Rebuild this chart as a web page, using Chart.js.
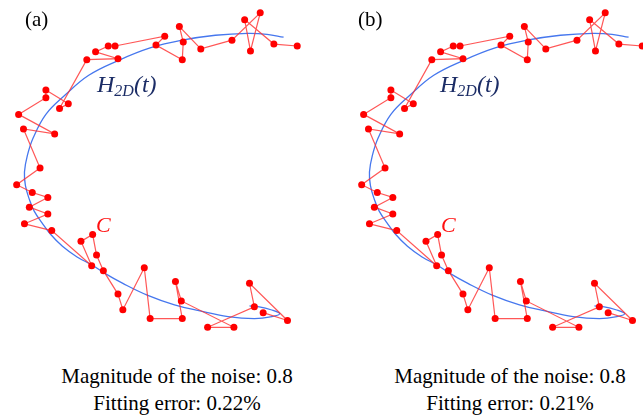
<!DOCTYPE html>
<html>
<head>
<meta charset="UTF-8">
<title>Noise fitting</title>
<script src="https://cdn.jsdelivr.net/npm/chart.js"></script>
<style>
  html, body { margin: 0; padding: 0; background: #fff; }
  body { width: 643px; height: 419px; position: relative; overflow: hidden; font-family: "Liberation Serif", "Times New Roman", serif; }
  .panel { position: absolute; top: 0; }
  .txt { position: absolute; white-space: nowrap; color: #000; }
  .lbl { font-size: 21px; line-height: 21px; }
  .hname { font-size: 24px; line-height: 24px; font-style: italic; color: #1c2d66; }
  .hname span { font-size: 16px; position: relative; top: 4px; }
  .cname { font-size: 22px; line-height: 22px; font-style: italic; color: #ff1010; }
  .cap { font-size: 21px; line-height: 27px; text-align: center; width: 354px; }
</style>
</head>
<body>

<canvas id="chartA" class="panel" width="310" height="345" style="left:0px"></canvas>
<canvas id="chartB" class="panel" width="310" height="345" style="left:345px"></canvas>

<div class="txt lbl" style="left:25px; top:9px">(a)</div>
<div class="txt lbl" style="left:358px; top:9px">(b)</div>

<div class="txt hname" style="left:97px; top:72px">H<span>2D</span>(t)</div>
<div class="txt hname" style="left:440px; top:72px">H<span>2D</span>(t)</div>

<div class="txt cname" style="left:96px; top:214px">C</div>
<div class="txt cname" style="left:441px; top:214px">C</div>

<div class="txt cap" style="left:0px; top:363px">Magnitude of the noise: 0.8<br>Fitting error: 0.22%</div>
<div class="txt cap" style="left:333px; top:363px">Magnitude of the noise: 0.8<br>Fitting error: 0.21%</div>

<script>
// noisy samples C (same pixel frame for both panels)
var noiseX = [301,277,247,253,263,234,202,180,184,183,156,165,114,107,94,117,85,57,66,43,43,15,52,20,37,13,29,45,26,45,21,49,90,79,91,95,102,117,122,144,150,183,176,182,236,209,257,252,291,266];
var noiseY = [43,41,16,48,9,37,46,23,39,57,42,33,43,43,49,56,57,107,102,88,96,113,133,128,168,185,193,198,208,215,225,232,268,243,236,257,273,297,313,270,322,322,284,304,331,331,310,286,324,316];

// fitted curve H2D(t)
var curveX = [287,270,250,217,183,150,117,87,63,43,30,24,21,22,26,31,39,48,60,75,90,104,122,147,175,200,230,257,275,283,274,262,252];
var curveY = [34,31,30,32,37,45,58,73,93,113,137,155,172,186,200,212,224,236,248,259,267,276,286,298,308,314,320,322,320,317,313,310,309];

function pts(xs, ys) {
  var out = [];
  for (var i = 0; i < xs.length; i++) out.push({ x: xs[i], y: ys[i] });
  return out;
}

function makeChart(id) {
  var ctx = document.getElementById(id).getContext('2d');
  return new Chart(ctx, {
    type: 'scatter',
    data: {
      datasets: [{
        label: 'C',
        data: pts(noiseX, noiseY),
        showLine: true,
        borderColor: 'rgba(255,45,45,0.8)',
        borderWidth: 1.2,
        pointRadius: 3.5,
        pointBorderWidth: 0,
        pointBackgroundColor: '#ff0000',
        tension: 0,
        order: 0
      }, {
        label: 'H2D(t)',
        data: pts(curveX, curveY),
        showLine: true,
        borderColor: '#4677ee',
        borderWidth: 1.3,
        pointRadius: 0,
        tension: 0.4,
        order: 1
      }]
    },
    options: {
      responsive: false,
      animation: false,
      layout: { padding: 0 },
      plugins: { legend: { display: false }, tooltip: { enabled: false } },
      scales: {
        x: { type: 'linear', min: 0, max: 310, display: false },
        y: { type: 'linear', min: 0, max: 345, reverse: true, display: false }
      }
    }
  });
}

makeChart('chartA');
makeChart('chartB');
</script>
</body>
</html>
